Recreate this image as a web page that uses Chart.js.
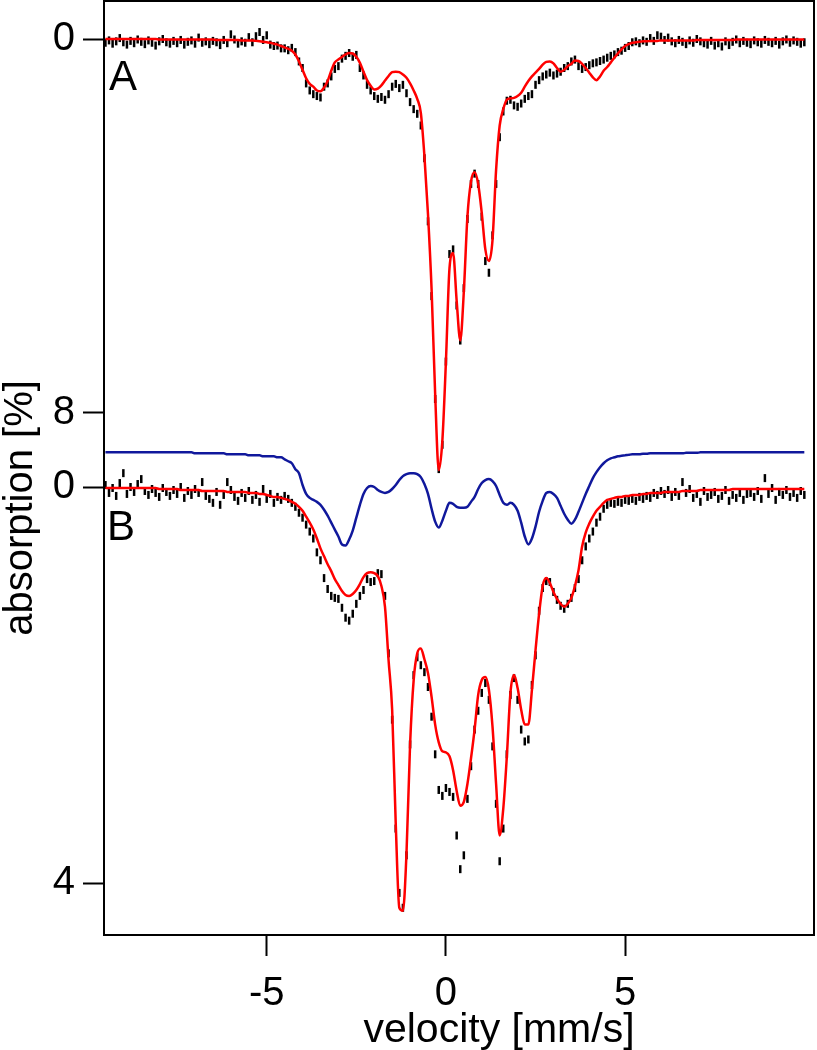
<!DOCTYPE html>
<html>
<head>
<meta charset="utf-8">
<script src="https://cdn.jsdelivr.net/npm/chart.js@4.4.1/dist/chart.umd.min.js"></script>
<style>
  html, body { margin: 0; padding: 0; background: #fff; }
  canvas { display: block; }
</style>
</head>
<body>
<canvas id="spectrum" width="817" height="1050"></canvas>
<script>
// ===============================
// Data (velocity channels in mm/s, absorption in %)
// ===============================
const velocity = [
  -9.5,-9.4,-9.3,-9.2,-9.1,-9.0,-8.9,-8.8,-8.7,-8.6,
  -8.5,-8.4,-8.3,-8.2,-8.1,-8.0,-7.9,-7.8,-7.7,-7.6,
  -7.5,-7.4,-7.3,-7.2,-7.1,-7.0,-6.9,-6.8,-6.7,-6.6,
  -6.5,-6.4,-6.3,-6.2,-6.1,-6.0,-5.9,-5.8,-5.7,-5.6,
  -5.5,-5.4,-5.3,-5.2,-5.1,-5.0,-4.9,-4.8,-4.7,-4.6,
  -4.5,-4.4,-4.3,-4.2,-4.1,-4.0,-3.9,-3.8,-3.7,-3.6,
  -3.5,-3.4,-3.3,-3.2,-3.1,-3.0,-2.9,-2.8,-2.7,-2.6,
  -2.5,-2.4,-2.3,-2.2,-2.1,-2.0,-1.9,-1.8,-1.7,-1.6,
  -1.5,-1.4,-1.3,-1.2,-1.1,-1.0,-0.9,-0.8,-0.7,-0.6,
  -0.5,-0.4,-0.3,-0.2,-0.1,0.0,0.1,0.2,0.3,0.4,
  0.5,0.6,0.7,0.8,0.9,1.0,1.1,1.2,1.3,1.4,
  1.5,1.6,1.7,1.8,1.9,2.0,2.1,2.2,2.3,2.4,
  2.5,2.6,2.7,2.8,2.9,3.0,3.1,3.2,3.3,3.4,
  3.5,3.6,3.7,3.8,3.9,4.0,4.1,4.2,4.3,4.4,
  4.5,4.6,4.7,4.8,4.9,5.0,5.1,5.2,5.3,5.4,
  5.5,5.6,5.7,5.8,5.9,6.0,6.1,6.2,6.3,6.4,
  6.5,6.6,6.7,6.8,6.9,7.0,7.1,7.2,7.3,7.4,
  7.5,7.6,7.7,7.8,7.9,8.0,8.1,8.2,8.3,8.4,
  8.5,8.6,8.7,8.8,8.9,9.0,9.1,9.2,9.3,9.4,
  9.5,9.6,9.7,9.8,9.9,10.0
];

// spectrum A: measured
const measuredA = [
  0.08,0.03,0.10,0.05,-0.02,0.07,0.12,0.04,0.09,0.01,
  0.06,0.11,0.03,0.08,0.14,0.05,0.00,0.07,0.10,0.04,
  0.09,0.02,0.12,0.06,0.03,0.10,-0.03,0.08,0.05,0.11,
  0.04,0.07,0.13,0.02,0.09,-0.10,0.01,0.10,0.05,0.08,
  -0.04,0.07,-0.06,-0.15,0.02,-0.08,0.12,0.15,0.14,0.20,
  0.20,0.24,0.19,0.28,0.48,0.62,0.95,1.10,1.18,1.22,
  1.25,1.02,0.95,0.80,0.64,0.58,0.42,0.36,0.30,0.38,
  0.34,0.62,0.78,0.98,1.10,1.22,1.28,1.24,1.30,1.18,
  1.02,0.96,1.05,0.98,1.16,1.35,1.50,1.60,1.85,2.55,
  3.90,5.50,7.70,9.20,8.68,6.90,4.60,4.50,5.70,6.45,
  5.33,3.85,3.10,2.88,3.10,3.80,4.75,5.00,4.20,3.10,
  2.10,1.55,1.32,1.30,1.42,1.45,1.38,1.28,1.22,1.18,
  0.98,0.88,0.80,0.76,0.72,0.78,0.74,0.70,0.62,0.58,
  0.48,0.44,0.58,0.64,0.60,0.56,0.52,0.50,0.47,0.44,
  0.40,0.36,0.33,0.28,0.25,0.19,0.15,0.07,0.05,0.09,
  0.03,0.06,-0.02,0.04,-0.08,-0.05,0.02,-0.03,0.05,0.09,
  0.02,0.06,0.11,0.03,0.08,0.00,0.05,0.09,0.12,0.04,
  0.14,0.09,0.16,0.05,0.13,0.06,0.01,0.09,0.04,0.08,
  0.11,0.03,0.07,0.10,0.02,0.06,0.09,0.04,0.12,0.05,
  0.01,0.08,0.03,0.06,0.10,0.07
];

// spectrum A: fit
const fitA = [
  0.00,0.00,0.00,0.00,0.00,0.00,0.00,0.00,0.00,0.00,
  0.00,0.00,0.00,0.00,0.00,0.01,0.01,0.01,0.01,0.01,
  0.01,0.01,0.01,0.01,0.01,0.01,0.01,0.01,0.01,0.01,
  0.01,0.02,0.02,0.02,0.02,0.02,0.02,0.02,0.03,0.03,
  0.03,0.03,0.04,0.05,0.06,0.07,0.08,0.10,0.12,0.15,
  0.18,0.21,0.25,0.33,0.48,0.66,0.84,0.96,1.02,1.10,
  1.12,1.04,0.90,0.68,0.50,0.44,0.385,0.33,0.30,0.31,
  0.38,0.51,0.70,0.88,1.00,1.08,1.06,0.99,0.89,0.79,
  0.71,0.70,0.71,0.76,0.83,0.95,1.10,1.28,1.58,2.50,
  3.75,5.35,7.60,9.22,8.60,6.90,4.90,4.58,5.60,6.45,
  5.40,3.80,3.05,2.85,3.10,3.72,4.50,4.75,4.30,2.80,
  1.85,1.50,1.30,1.27,1.26,1.22,1.15,1.02,0.90,0.80,
  0.72,0.64,0.55,0.49,0.48,0.52,0.62,0.70,0.66,0.58,
  0.53,0.46,0.47,0.53,0.62,0.72,0.82,0.88,0.80,0.68,
  0.60,0.50,0.40,0.31,0.22,0.15,0.11,0.08,0.07,0.06,
  0.05,0.05,0.04,0.04,0.04,0.03,0.03,0.03,0.03,0.03,
  0.03,0.03,0.03,0.03,0.03,0.02,0.02,0.02,0.02,0.02,
  0.02,0.02,0.02,0.02,0.02,0.02,0.01,0.01,0.01,0.01,
  0.01,0.01,0.01,0.01,0.01,0.01,0.01,0.01,0.01,0.01,
  0.01,0.01,0.01,0.01,0.01,0.01
];

// spectrum B: measured
const measuredB = [
  -0.02,0.06,0.01,0.09,-0.04,-0.14,0.07,0.00,0.05,-0.03,
  -0.08,0.04,0.08,0.02,0.06,0.10,0.01,0.05,0.09,0.03,
  0.07,0.00,0.11,0.04,0.08,0.02,0.06,-0.05,0.09,0.12,
  0.16,0.05,0.18,0.08,-0.05,0.03,0.10,0.14,0.06,0.11,
  0.04,0.13,0.08,0.15,0.02,0.12,0.07,0.16,0.10,0.13,
  0.09,0.12,0.16,0.20,0.26,0.31,0.38,0.45,0.52,0.66,
  0.74,0.92,1.03,1.10,1.12,1.13,1.22,1.32,1.35,1.28,
  1.18,1.10,1.04,0.93,0.96,0.95,0.87,0.88,1.10,1.68,
  2.35,3.45,4.10,4.25,3.72,2.60,1.90,1.72,1.80,1.87,
  2.02,2.32,2.70,3.06,3.12,3.04,3.08,3.13,3.52,3.86,
  3.72,3.15,2.82,2.45,2.26,2.08,1.98,2.15,2.62,3.20,
  3.78,3.45,2.70,2.10,1.93,2.15,2.45,2.57,2.55,2.00,
  1.70,1.25,1.02,0.95,0.96,1.06,1.14,1.20,1.23,1.18,
  1.12,1.02,0.93,0.74,0.60,0.52,0.45,0.36,0.30,0.22,
  0.18,0.16,0.17,0.15,0.16,0.13,0.14,0.12,0.14,0.10,
  0.12,0.09,0.11,0.06,0.08,0.04,0.07,0.03,0.10,0.05,
  0.09,-0.05,0.06,0.02,0.11,0.07,0.15,0.04,0.10,0.08,
  0.05,0.12,0.09,0.03,0.14,0.08,0.11,0.06,0.13,0.07,
  0.06,0.10,0.04,0.12,-0.09,0.07,0.01,0.13,0.05,0.08,
  0.03,0.10,0.06,0.11,0.04,0.08
];

// spectrum B: fit
const fitB = [
  0.01,0.01,0.01,0.01,0.01,0.01,0.01,0.01,0.01,0.01,
  0.01,0.01,0.01,0.01,0.01,0.02,0.02,0.02,0.02,0.02,
  0.02,0.03,0.03,0.03,0.03,0.03,0.03,0.04,0.04,0.04,
  0.04,0.04,0.04,0.04,0.05,0.05,0.05,0.05,0.05,0.05,
  0.06,0.06,0.06,0.07,0.07,0.08,0.09,0.10,0.10,0.11,
  0.12,0.13,0.15,0.17,0.20,0.24,0.30,0.36,0.43,0.52,
  0.62,0.70,0.78,0.85,0.93,0.99,1.05,1.09,1.10,1.08,
  1.04,0.98,0.91,0.87,0.86,0.87,0.90,1.00,1.21,1.75,
  2.25,3.40,4.25,4.28,3.70,2.60,1.95,1.68,1.63,1.74,
  1.88,2.12,2.40,2.58,2.67,2.68,2.72,2.86,3.07,3.22,
  3.18,3.00,2.74,2.45,2.10,1.95,1.92,2.05,2.42,3.00,
  3.52,3.25,2.72,2.08,1.90,2.03,2.25,2.40,2.40,2.05,
  1.65,1.28,1.00,0.92,0.97,1.06,1.13,1.18,1.21,1.18,
  1.12,1.00,0.84,0.60,0.46,0.37,0.30,0.24,0.20,0.16,
  0.13,0.12,0.11,0.10,0.10,0.09,0.09,0.08,0.08,0.08,
  0.07,0.07,0.06,0.06,0.06,0.06,0.05,0.05,0.05,0.05,
  0.05,0.04,0.04,0.04,0.04,0.04,0.03,0.03,0.03,0.03,
  0.03,0.03,0.03,0.03,0.03,0.02,0.02,0.02,0.02,0.02,
  0.02,0.02,0.02,0.02,0.02,0.02,0.02,0.02,0.02,0.02,
  0.02,0.02,0.02,0.02,0.02,0.02
];

// spectrum B: single component (offset above the baseline)
const componentB = [
  -0.35,-0.35,-0.35,-0.35,-0.35,-0.35,-0.35,-0.35,-0.35,-0.35,
  -0.35,-0.35,-0.35,-0.35,-0.35,-0.35,-0.35,-0.35,-0.35,-0.35,
  -0.35,-0.35,-0.35,-0.35,-0.35,-0.34,-0.34,-0.34,-0.34,-0.34,
  -0.34,-0.34,-0.34,-0.34,-0.33,-0.33,-0.33,-0.33,-0.33,-0.33,
  -0.32,-0.32,-0.32,-0.32,-0.31,-0.31,-0.31,-0.31,-0.30,-0.30,
  -0.28,-0.26,-0.24,-0.18,-0.14,-0.02,0.07,0.11,0.13,0.15,
  0.18,0.23,0.29,0.36,0.43,0.50,0.58,0.59,0.53,0.44,
  0.31,0.18,0.07,0.01,-0.01,0.00,0.03,0.05,0.06,0.05,
  0.02,-0.02,-0.07,-0.11,-0.13,-0.14,-0.14,-0.13,-0.10,-0.03,
  0.07,0.22,0.35,0.41,0.34,0.24,0.16,0.17,0.20,0.21,
  0.21,0.20,0.15,0.10,0.02,-0.04,-0.07,-0.08,-0.06,-0.01,
  0.08,0.16,0.18,0.16,0.18,0.24,0.36,0.50,0.58,0.52,
  0.40,0.25,0.14,0.06,0.05,0.07,0.11,0.19,0.27,0.33,
  0.37,0.33,0.25,0.16,0.07,-0.01,-0.09,-0.15,-0.20,-0.24,
  -0.27,-0.29,-0.30,-0.31,-0.315,-0.32,-0.325,-0.33,-0.33,-0.33,
  -0.335,-0.335,-0.34,-0.34,-0.34,-0.34,-0.34,-0.34,-0.34,-0.34,
  -0.34,-0.34,-0.345,-0.345,-0.345,-0.345,-0.35,-0.35,-0.35,-0.35,
  -0.35,-0.35,-0.35,-0.35,-0.35,-0.35,-0.35,-0.35,-0.35,-0.35,
  -0.35,-0.35,-0.35,-0.35,-0.35,-0.35,-0.35,-0.35,-0.35,-0.35,
  -0.35,-0.35,-0.35,-0.35,-0.35,-0.35
];

// ticks and texts
const xTicks = [-5, 0, 5];
const ticksA = [0, 8];
const ticksB = [0, 4];
const panelNames = ["A", "B"];
const xTitle = "velocity [mm/s]";
const yTitle = "absorption [%]";

// ===============================
// Helpers
// ===============================
const fontFamily = "'Liberation Sans', Arial, Helvetica, sans-serif";

// axis ranges, absorption grows downwards
const xMin = -9.54, xMax = 10.27;
const aMin = -0.813, aMax = 19.166;
const bMin = -4.909, bMax = 4.525;

const toPoints = (ys) => ys.map((y, i) => ({ x: velocity[i], y }));
// position of a panel-B value expressed on the panel-A axis
const bToA = (v) => aMin + (v - bMin) / (bMax - bMin) * (aMax - aMin);

const yTickValues = ticksA.concat(ticksB.map(bToA));
const yTickLabels = ticksA.concat(ticksB).map(String);

// fixed box size, no extra room for overhanging tick labels
const fixSize = (size) => (s) => {
  if (s.isHorizontal()) s.height = size; else s.width = size;
  s.paddingTop = 0;
  s.paddingBottom = 0;
  s.paddingLeft = 0;
  s.paddingRight = 0;
};

const fitLine = (data, axis, color, width) => ({
  data: toPoints(data),
  yAxisID: axis,
  showLine: true,
  borderColor: color,
  borderWidth: width,
  pointRadius: 0,
  cubicInterpolationMode: "monotone",
  order: 1
});

const dashes = (data, axis) => ({
  data: toPoints(data),
  yAxisID: axis,
  showLine: false,
  pointStyle: "line",
  rotation: 90,
  pointRadius: 4,
  pointBorderWidth: 2.5,
  pointBorderColor: "#000",
  borderColor: "#000",
  order: 2
});

const frameAxis = (position, size) => ({
  type: "linear",
  position,
  min: 0,
  max: 1,
  ticks: { display: false },
  grid: { drawOnChartArea: false, drawTicks: false },
  border: { display: true, color: "#000", width: 2 },
  afterFit: fixSize(size)
});

// ===============================
// Texts (panel letters and axis titles)
// ===============================
const textPlugin = {
  id: "spectrumTexts",
  afterDraw(chart) {
    const { ctx, chartArea } = chart;
    ctx.save();
    ctx.fillStyle = "#000";
    ctx.textAlign = "left";
    ctx.textBaseline = "alphabetic";
    ctx.font = `42px ${fontFamily}`;
    ctx.fillText(panelNames[0], chartArea.left + 5, 90);
    ctx.fillText(panelNames[1], chartArea.left + 3, 540);

    ctx.font = `41px ${fontFamily}`;
    ctx.textAlign = "center";
    ctx.fillText(xTitle, 499, 1042);

    ctx.translate(21, 508);
    ctx.rotate(-Math.PI / 2);
    ctx.font = `40px ${fontFamily}`;
    ctx.textBaseline = "middle";
    ctx.fillText(yTitle, 0, 0);
    ctx.restore();
  }
};

// ===============================
// Chart
// ===============================
new Chart(document.getElementById("spectrum").getContext("2d"), {
  type: "scatter",
  data: {
    datasets: [
      fitLine(fitA, "yA", "#ff0000", 2.5),
      fitLine(fitB, "yB", "#ff0000", 2.5),
      fitLine(componentB, "yB", "#10189c", 2.5),
      dashes(measuredA, "yA"),
      dashes(measuredB, "yB")
    ]
  },
  options: {
    responsive: false,
    animation: false,
    devicePixelRatio: 1,
    layout: { padding: 0, autoPadding: false },
    plugins: { legend: { display: false }, tooltip: { enabled: false } },
    scales: {
      x: {
        type: "linear",
        position: "bottom",
        min: xMin,
        max: xMax,
        afterBuildTicks: (s) => { s.ticks = xTicks.map(v => ({ value: v })); },
        afterFit: fixSize(115),
        grid: { drawOnChartArea: false, drawTicks: true, tickLength: 21, tickWidth: 2, tickColor: "#000" },
        border: { display: true, color: "#000", width: 2 },
        ticks: {
          color: "#000",
          font: { family: fontFamily, size: 40, lineHeight: 1 },
          padding: 18,
          maxRotation: 0,
          autoSkip: false
        }
      },
      xTop: frameAxis("top", 1),
      yA: {
        type: "linear",
        position: "left",
        reverse: true,
        min: aMin,
        max: aMax,
        afterBuildTicks: (s) => { s.ticks = yTickValues.map(v => ({ value: v })); },
        afterFit: fixSize(104),
        grid: { drawOnChartArea: false, drawTicks: true, tickLength: 21, tickWidth: 2, tickColor: "#000" },
        border: { display: true, color: "#000", width: 2 },
        ticks: {
          color: "#000",
          font: { family: fontFamily, size: 40, lineHeight: 1 },
          padding: 8,
          autoSkip: false,
          callback: (v, i) => yTickLabels[i]
        }
      },
      yB: {
        type: "linear",
        display: false,
        reverse: true,
        min: bMin,
        max: bMax
      },
      yRight: frameAxis("right", 3)
    }
  },
  plugins: [textPlugin]
});
</script>
</body>
</html>
